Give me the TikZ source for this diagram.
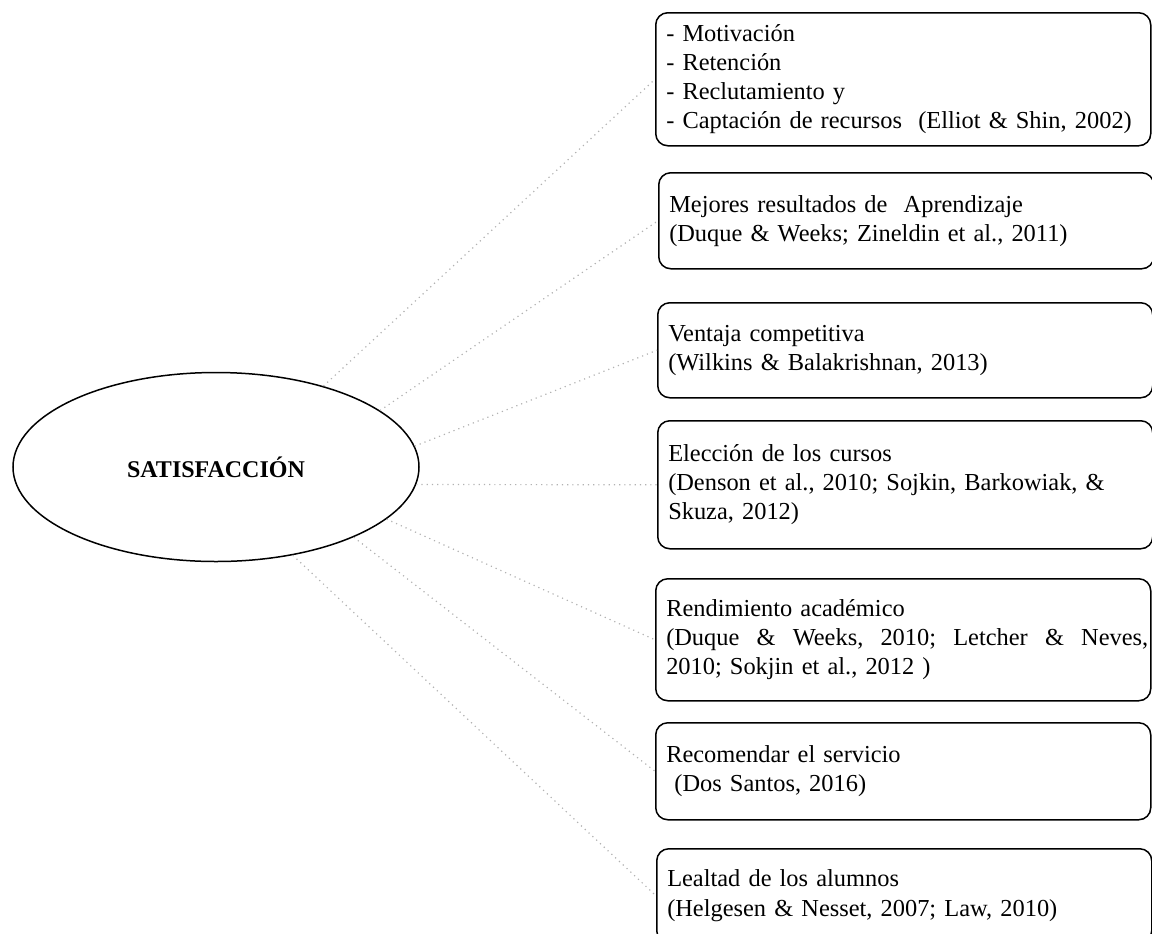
\documentclass[tikz,border=0pt]{standalone}
\usepackage{fontspec}
\setmainfont{Liberation Serif}
\usepackage{tikz}
\usetikzlibrary{shapes.geometric}

\tikzset{
  reason/.style={draw, rounded corners=6pt, line width=0.75pt, anchor=north west,
    minimum width=247.5pt, text width=237pt, inner xsep=5pt, align=left,
    font=\fontsize{12.2}{14.6}\selectfont},
  link/.style={draw=gray!60, dotted, line width=0.6pt}
}

\begin{document}
\begin{tikzpicture}[x=0.5pt, y=-0.5pt]
\useasboundingbox (0,0) rectangle (1152,933);

\node[draw, ellipse, line width=0.75pt, minimum width=203pt, minimum height=94.5pt,
  font=\fontsize{12}{14.5}\selectfont\bfseries] (sat) at (216,467) {SATISFACCIÓN};

\node[reason, minimum height=66.5pt] (motiv) at (655,12)
  {- Motivación\\- Retención\\- Reclutamiento y\\- Captación de recursos \ (Elliot \& Shin, 2002)};
\node[reason, minimum height=48pt] (aprend) at (658,172)
  {Mejores resultados de \ Aprendizaje\\(Duque \& Weeks; Zineldin et al., 2011)};
\node[reason, minimum height=47.5pt] (ventaja) at (657,302)
  {Ventaja competitiva\\(Wilkins \& Balakrishnan, 2013)};
\node[reason, minimum height=64pt] (cursos) at (657,420)
  {Elección de los cursos\\(Denson et al., 2010; Sojkin, Barkowiak, \&\\Skuza, 2012)};
\node[reason, minimum height=61pt] (rendim) at (655,578)
  {Rendimiento académico\\\makebox[241pt][l]{(Duque\hfill\&\hfill Weeks,\hfill 2010;\hfill Letcher\hfill\&\hfill Neves,}\\2010; Sokjin et al., 2012 )};
\node[reason, minimum height=48.5pt] (recom) at (655,722)
  {Recomendar el servicio\\\ (Dos Santos, 2016)};
\node[reason, minimum height=47pt] (lealtad) at (656,848)
  {Lealtad de los alumnos\\(Helgesen \& Nesset, 2007; Law, 2010)};

% dotted links from the ellipse
\foreach \a/\b in {37/motiv, 19/aprend, 6/ventaja, -5/cursos, -17/rendim, -27/recom, -49/lealtad}{
	\draw[link] (sat.\a) -- (\b.west);
}

\end{tikzpicture}
\end{document}
